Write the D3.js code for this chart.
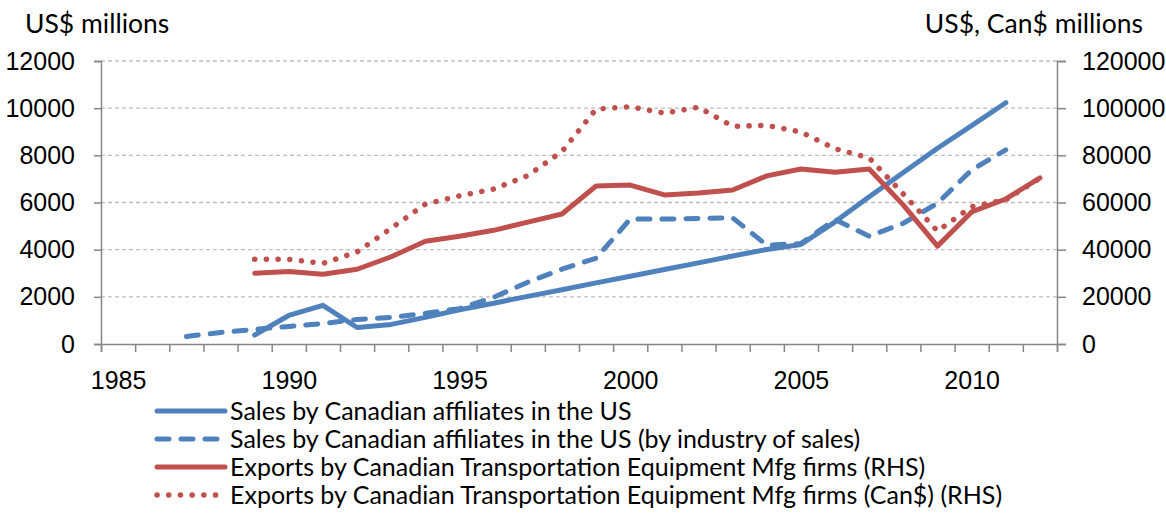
<!DOCTYPE html>
<html>
<head>
<meta charset="utf-8">
<script src="https://cdn.jsdelivr.net/npm/d3@7"></script>
<style>
  body { margin: 0; background: #fff; }
  svg { display: block; font-family: Lato, "Noto Sans", sans-serif; }
  .axis path, .axis line { stroke: #868686; stroke-width: 1.5; }
  .axis text { font-size: 25px; fill: #000; }
  .grid line { stroke: #bfbfbf; stroke-width: 1.3; stroke-dasharray: 4,3; }
</style>
</head>
<body>
<script>
// years on the category axis
let years = d3.range(1985, 2013);

// US$ millions (left axis)
let salesYears = d3.range(1989, 2012);
let sales = [380, 1210, 1640, 700, 830, 1130, 1450, 1730, 2020, 2300, 2590, 2870,
             3160, 3440, 3730, 4010, 4220, 5180, 6240, 7270, 8300, 9260, 10230];

let salesIndYears = d3.range(1987, 2012);
let salesInd = [320, 490, 620, 745, 870, 1040, 1130, 1300, 1500, 1980, 2620, 3170,
                3640, 5300, 5300, 5320, 5350, 4190, 4260, 5280, 4570, 5120, 5970, 7380, 8230];

// RHS, millions
let exportsYears = d3.range(1989, 2013);
let exportsUS = [30000, 30700, 29600, 31700, 37000, 43600, 45700, 48200, 51700, 55100,
                 67000, 67400, 63200, 64000, 65300, 71300, 74200, 72800, 74200, 58900,
                 41500, 56000, 61500, 70400];
let exportsCan = [35900, 35900, 34200, 39000, 49100, 59300, 62800, 65700, 71400, 81600,
                  99600, 100600, 97900, 100400, 92300, 92700, 89900, 82800, 78900, 63600,
                  47900, 58200, 61200, 70300];

let leftTicks = [0, 2000, 4000, 6000, 8000, 10000, 12000];
let rightTicks = [0, 20000, 40000, 60000, 80000, 100000, 120000];
let xLabels = [1985, 1990, 1995, 2000, 2005, 2010];

let legendNames = [
  'Sales by Canadian affiliates in the US',
  'Sales by Canadian affiliates in the US (by industry of sales)',
  'Exports by Canadian Transportation Equipment Mfg firms (RHS)',
  'Exports by Canadian Transportation Equipment Mfg firms (Can$) (RHS)'
];

let margin = {top: 61, right: 109, bottom: 170, left: 101};
let width = 1166 - (margin.left + margin.right);
let height = 514 - (margin.top + margin.bottom);

let xScale = d3.scaleLinear()
                .domain([1984.5, 2012.5])
                .range([0, width]);

let yScale = d3.scaleLinear()
                .domain([0, 12000])
                .range([height, 0]);

let y2Scale = d3.scaleLinear()
                .domain([0, 120000])
                .range([height, 0]);

let svg = d3.select('body').append('svg')
                .attr('width', 1166)
                .attr('height', 514);

let g = svg.append('g')
        .attr('transform', 'translate(' + margin.left + ',' + margin.top + ')');

// gridlines
g.append('g')
    .attr('class', 'grid')
  .selectAll('line')
    .data(leftTicks.slice(1))
  .enter().append('line')
    .attr('x1', 0)
    .attr('x2', width)
    .attr('y1', d => yScale(d))
    .attr('y2', d => yScale(d));

// left axis
g.append('g')
        .attr('class', 'axis')
        .call(d3.axisLeft(yScale).tickValues(leftTicks).tickSize(7).tickPadding(19).tickFormat(d3.format('d')));

// right axis
g.append('g')
        .attr('class', 'axis')
        .attr('transform', 'translate(' + width + ',0)')
        .call(d3.axisRight(y2Scale).tickValues(rightTicks).tickSize(9).tickPadding(16).tickFormat(d3.format('d')));

// x axis: ticks between categories, labels every five years
g.append('g')
        .attr('class', 'axis')
        .attr('transform', 'translate(0,' + height + ')')
        .call(d3.axisBottom(xScale).tickValues(d3.range(1984.5, 2013, 1)).tickSize(8).tickFormat(''));

g.append('g')
        .attr('class', 'axis')
        .attr('transform', 'translate(0,' + height + ')')
        .call(d3.axisBottom(xScale).tickValues(xLabels).tickSize(0).tickPadding(27).tickFormat(d3.format('d')))
        .call(a => a.select('.domain').remove());

g.selectAll('.axis .domain').attr('stroke-width', 1.8);

let blue = '#4f81bd';
let red = '#c0504d';

let series = [
  {xs: salesYears, vs: sales, scale: yScale, color: blue, dash: null},
  {xs: salesIndYears, vs: salesInd, scale: yScale, color: blue, dash: '12,12'},
  {xs: exportsYears, vs: exportsUS, scale: y2Scale, color: red, dash: null},
  {xs: exportsYears, vs: exportsCan, scale: y2Scale, color: red, dash: '0.1,11.6'}
];

series.forEach(function(s){
  let line = d3.line()
      .x((d, i) => xScale(s.xs[i]))
      .y(d => s.scale(d));
  g.append('path')
      .datum(s.vs)
      .attr('fill', 'none')
      .attr('stroke', s.color)
      .attr('stroke-width', s.dash && s.dash[0] === '0' ? 5.5 : 5)
      .attr('stroke-linecap', 'round')
      .attr('stroke-linejoin', 'round')
      .attr('stroke-dasharray', s.dash)
      .attr('d', line);
});

// axis titles
svg.append('text')
    .attr('x', 25)
    .attr('y', 33)
    .attr('font-size', 26.5)
    .text('US$ millions');

svg.append('text')
    .attr('x', 1143)
    .attr('y', 33)
    .attr('text-anchor', 'end')
    .attr('font-size', 26.5)
    .text('US$, Can$ millions');

// legend
let legend = svg.append('g')
        .attr('transform', 'translate(155,411)');

let rows = legend.selectAll('g')
    .data(series)
  .enter().append('g')
    .attr('transform', (d, i) => 'translate(0,' + (i * 28) + ')');

rows.append('line')
    .attr('x1', 2)
    .attr('x2', 70)
    .attr('stroke', d => d.color)
    .attr('stroke-width', d => d.dash && d.dash[0] === '0' ? 5.5 : 5)
    .attr('stroke-linecap', 'round')
    .attr('stroke-dasharray', d => d.dash);

rows.append('text')
    .attr('x', 75)
    .attr('dy', '0.35em')
    .attr('font-size', 25)
    .text((d, i) => legendNames[i]);
</script>
</body>
</html>
